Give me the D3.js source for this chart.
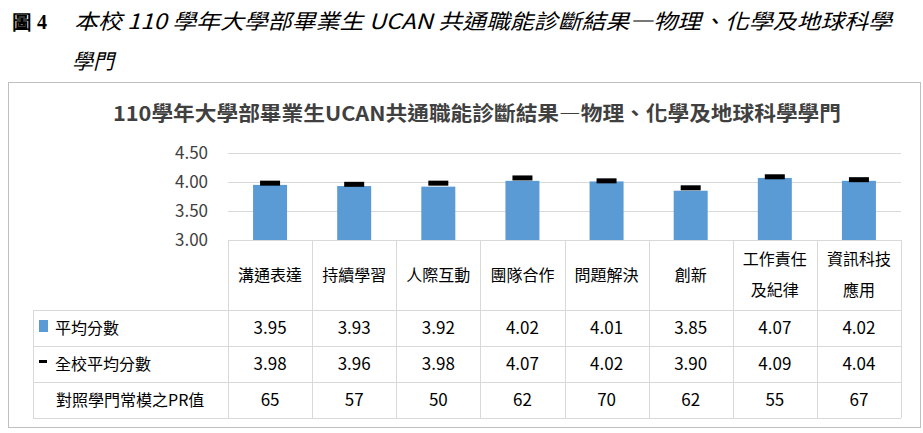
<!DOCTYPE html>
<html lang="zh-Hant">
<head>
<meta charset="UTF-8">
<style>
    body { margin: 0; background: #fff; }
    svg text { font-family: "Noto Sans CJK TC", "Noto Sans", sans-serif; fill: #000; }
</style>
</head>
<body>
<svg id="chart" width="923" height="433"></svg>
<script src="https://d3js.org/d3.v7.min.js"></script>
<script>
// chart data
var categories = ['溝通表達', '持續學習', '人際互動', '團隊合作', '問題解決', '創新', '工作責任\n及紀律', '資訊科技\n應用'];
var deptScores = [3.95, 3.93, 3.92, 4.02, 4.01, 3.85, 4.07, 4.02];
var schoolScores = [3.98, 3.96, 3.98, 4.07, 4.02, 3.90, 4.09, 4.04];
var prValues = [65, 57, 50, 62, 70, 62, 55, 67];
var yTicks = [3.00, 3.50, 4.00, 4.50];

var svg = d3.select('#chart');

// caption above the chart
var cap = svg.append('g');
cap.append('text').attr('x', 12).attr('y', 29).style('font-family', 'Liberation Serif, serif')
    .style('font-weight', 'bold').style('font-size', '20px').text('圖 4');
cap.append('text').attr('x', 74).attr('y', 29).style('font-style', 'italic')
    .style('font-size', '21px').attr('textLength', 818).attr('lengthAdjust', 'spacingAndGlyphs')
    .text('本校 110 學年大學部畢業生 UCAN 共通職能診斷結果—物理、化學及地球科學');
cap.append('text').attr('x', 72).attr('y', 69).style('font-style', 'italic')
    .style('font-size', '21px').text('學門');

// frame
svg.append('rect').attr('x', 8.5).attr('y', 82.5).attr('width', 912).attr('height', 345)
    .attr('fill', 'none').attr('stroke', '#bfbfbf');

svg.append('text').attr('x', 113).attr('y', 121)
    .style('font-size', '20px').style('font-weight', 'bold').style('fill', '#404040')
    .attr('textLength', 728).attr('lengthAdjust', 'spacingAndGlyphs')
    .text('110學年大學部畢業生UCAN共通職能診斷結果—物理、化學及地球科學學門');

var left = 228, right = 901;
var x = d3.scaleBand().domain(d3.range(categories.length)).range([left, right]);
var y = d3.scaleLinear().domain([3, 4.5]).range([240, 153]);

// gridlines + y labels
svg.selectAll('.grid').data(yTicks).enter().append('line')
    .attr('x1', left).attr('x2', right)
    .attr('y1', d => Math.round(y(d)) + 0.5).attr('y2', d => Math.round(y(d)) + 0.5)
    .attr('stroke', '#d9d9d9');
svg.selectAll('.ylab').data(yTicks).enter().append('text')
    .attr('x', 208).attr('y', d => y(d) + 6).attr('text-anchor', 'end')
    .style('font-size', '17px').style('fill', '#404040').text(d => d.toFixed(2));

// bars
var bw = 34;
svg.selectAll('.bar').data(deptScores).enter().append('rect')
    .attr('x', (d, i) => x(i) + x.bandwidth() / 2 - bw / 2)
    .attr('y', d => y(d)).attr('width', bw).attr('height', d => y(3) - y(d))
    .attr('fill', '#5b9bd5');

// school average markers
svg.selectAll('.mark').data(schoolScores).enter().append('rect')
    .attr('x', (d, i) => x(i) + x.bandwidth() / 2 - 10)
    .attr('y', d => y(d) - 2.5).attr('width', 20).attr('height', 5)
    .attr('fill', '#000');

// data table
var rowY = [240, 310, 346, 382, 418];
var tableLeft = 33;
var g = svg.append('g').attr('stroke', '#d9d9d9');
rowY.slice(1).forEach(function (ry) {
    g.append('line').attr('x1', tableLeft).attr('x2', right).attr('y1', ry + 0.5).attr('y2', ry + 0.5);
});
g.append('line').attr('x1', tableLeft + 0.5).attr('x2', tableLeft + 0.5).attr('y1', rowY[1]).attr('y2', rowY[4]);
d3.range(categories.length + 1).forEach(function (i) {
    var xx = i < categories.length ? x(i) : right;
    g.append('line').attr('x1', Math.round(xx) + 0.5).attr('x2', Math.round(xx) + 0.5)
        .attr('y1', rowY[0]).attr('y2', rowY[4]);
});

// category labels
categories.forEach(function (c, i) {
    var lines = c.split('\n');
    var cx = x(i) + x.bandwidth() / 2;
    var t = svg.append('text').attr('text-anchor', 'middle').style('font-size', '16px');
    lines.forEach(function (l, k) {
        t.append('tspan').attr('x', cx)
            .attr('y', lines.length === 1 ? 281 : 265 + k * 31).text(l);
    });
});

var rows = [
    { label: '平均分數', vals: deptScores.map(d => d.toFixed(2)) },
    { label: '全校平均分數', vals: schoolScores.map(d => d.toFixed(2)) },
    { label: '對照學門常模之PR值', vals: prValues.map(String) }
];
rows.forEach(function (r, k) {
    var cy = (rowY[k + 1] + rowY[k + 2]) / 2 + 6;
    svg.append('text').attr('x', k === 2 ? 56 : 55).attr('y', cy).style('font-size', '16px').text(r.label);
    svg.selectAll(null).data(r.vals).enter().append('text')
        .attr('x', (d, i) => x(i) + x.bandwidth() / 2).attr('y', cy)
        .attr('text-anchor', 'middle').style('font-size', '17px').text(d => d);
});
// legend keys
svg.append('rect').attr('x', 39).attr('y', 320).attr('width', 9).attr('height', 12).attr('fill', '#5b9bd5');
svg.append('rect').attr('x', 39).attr('y', 360).attr('width', 8).attr('height', 3).attr('fill', '#000');
</script>
</body>
</html>
